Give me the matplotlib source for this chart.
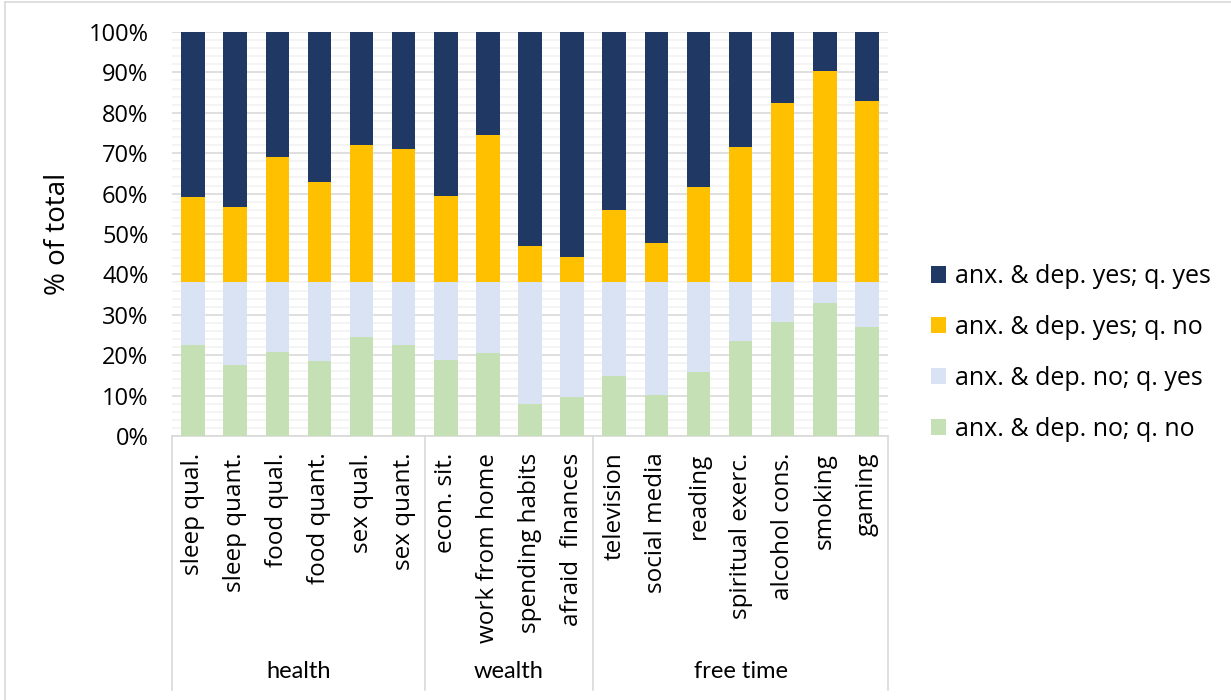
import matplotlib
matplotlib.use("Agg")
import matplotlib.pyplot as plt
import matplotlib.transforms as mtransforms
from matplotlib.lines import Line2D
from matplotlib.patches import Patch
import numpy as np

plt.rcParams['font.family'] = ['Open Sans', 'DejaVu Sans']

# --- data (percent of total) ---
categories = ['sleep qual.', 'sleep quant.', 'food qual.', 'food quant.', 'sex qual.', 'sex quant.',
              'econ. sit.', 'work from home', 'spending habits', 'afraid  finances',
              'television', 'social media', 'reading', 'spiritual exerc.', 'alcohol cons.',
              'smoking', 'gaming']
groups = ['health', 'wealth', 'free time']
group_sizes = [6, 4, 7]

no_no = [22.5, 17.6, 20.8, 18.6, 24.5, 22.5, 18.8, 20.6, 8.0, 9.6, 14.9, 10.1, 15.8, 23.6, 28.1, 32.8, 27.1]
no_yes = [15.5, 20.4, 17.2, 19.4, 13.5, 15.5, 19.2, 17.4, 30.0, 28.4, 23.1, 27.9, 22.2, 14.4, 9.9, 5.2, 10.9]
yes_no = [21.1, 18.8, 31.1, 24.8, 34.0, 33.0, 21.4, 36.4, 9.1, 6.2, 17.9, 9.8, 23.6, 33.5, 44.5, 52.3, 45.0]
yes_yes = [40.9, 43.2, 30.9, 37.2, 28.0, 29.0, 40.6, 25.6, 52.9, 55.8, 44.1, 52.2, 38.4, 28.5, 17.5, 9.7, 17.0]

series = [
    ('anx. & dep. no; q. no', no_no, '#c5e0b4'),
    ('anx. & dep. no; q. yes', no_yes, '#dae3f3'),
    ('anx. & dep. yes; q. no', yes_no, '#ffc000'),
    ('anx. & dep. yes; q. yes', yes_yes, '#203864'),
]

fig = plt.figure(figsize=(12.31, 7.0), dpi=100)
ax = fig.add_axes([172 / 1231, 1 - 436 / 700, 716 / 1231, 404 / 700])

x = np.arange(len(categories))
bottom = np.zeros(len(categories))
for label, vals, color in series:
    vals = np.array(vals)
    ax.bar(x, vals, width=0.56, bottom=bottom, color=color, label=label, zorder=3)
    bottom += vals

ax.set_xlim(-0.5, len(categories) - 0.5)
ax.set_ylim(0, 100)

# gridlines: major every 10 %, minor every 2 %
ax.set_yticks(np.arange(0, 101, 10))
ax.set_yticks(np.arange(0, 101, 2), minor=True)
ax.yaxis.grid(True, which='major', color='#d9d9d9', linewidth=1.2, zorder=0)
ax.yaxis.grid(True, which='minor', color='#f2f2f2', linewidth=1.2, zorder=0)
ax.set_yticklabels([f'{v}%' for v in range(0, 101, 10)], fontsize=17)
ax.tick_params(axis='y', which='both', length=0, pad=17)
ax.set_axisbelow(True)

for s in ['left', 'right', 'top']:
    ax.spines[s].set_visible(False)
ax.spines['bottom'].set_color('#d9d9d9')
ax.spines['bottom'].set_linewidth(1.2)

ax.set_xticks(x)
ax.set_xticklabels(categories, rotation=90, fontsize=17.5, va='top', ha='center')
ax.tick_params(axis='x', length=0, pad=12)

ax.set_ylabel('% of total', fontsize=20, labelpad=12)

# group separators and group labels below the category labels
trans = mtransforms.blended_transform_factory(ax.transData, ax.transAxes)
edges = np.concatenate([[0], np.cumsum(group_sizes)]) - 0.5
for e in edges:
    ax.add_line(Line2D([e, e], [0, -(690 - 436) / 404], transform=trans,
                       color='#d9d9d9', linewidth=1.2, clip_on=False))
for g, start, stop in zip(groups, edges[:-1], edges[1:]):
    ax.text((start + stop) / 2, -(672 - 436) / 404, g, transform=trans,
            ha='center', va='center', fontsize=17, family=['Lato', 'DejaVu Sans'])

# legend, top series first
handles = [Patch(facecolor=c, edgecolor='none') for _, _, c in series[::-1]]
labels = [l for l, _, _ in series[::-1]]
fig.legend(handles, labels, loc='center left', bbox_to_anchor=(908 / 1231, 1 - 353 / 700),
           frameon=False, fontsize=18, handlelength=0.62, handleheight=0.62,
           handletextpad=0.35, labelspacing=1.03)

# chart border (top and left edges visible in the crop)
fig.add_artist(Line2D([5 / 1231, 1], [1 - 2 / 700, 1 - 2 / 700], transform=fig.transFigure,
                      color='#d9d9d9', linewidth=1.2))
fig.add_artist(Line2D([5 / 1231, 5 / 1231], [0, 1 - 2 / 700], transform=fig.transFigure,
                      color='#d9d9d9', linewidth=1.2))

fig.savefig('out.png', dpi=100)
